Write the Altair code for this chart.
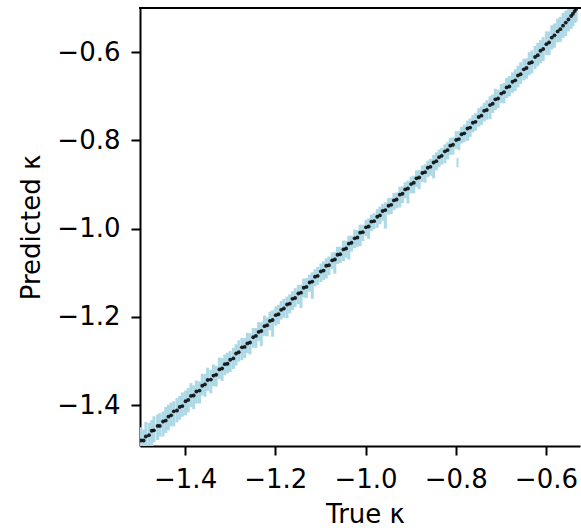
import altair as alt
import pandas as pd

true_k = [
    -1.498, -1.492, -1.487, -1.480, -1.474, -1.469, -1.461, -1.456, -1.449, -1.443,
    -1.437, -1.431, -1.425, -1.418, -1.412, -1.406, -1.399, -1.393, -1.387, -1.381,
    -1.375, -1.368, -1.362, -1.356, -1.350, -1.343, -1.337, -1.331, -1.324, -1.318,
    -1.312, -1.306, -1.300, -1.293, -1.287, -1.281, -1.274, -1.268, -1.262, -1.256,
    -1.249, -1.243, -1.237, -1.231, -1.224, -1.218, -1.212, -1.206, -1.199, -1.193,
    -1.187, -1.181, -1.174, -1.168, -1.162, -1.156, -1.149, -1.143, -1.137, -1.131,
    -1.124, -1.118, -1.112, -1.106, -1.099, -1.093, -1.087, -1.081, -1.074, -1.068,
    -1.062, -1.056, -1.049, -1.043, -1.037, -1.031, -1.024, -1.018, -1.012, -1.006,
    -0.999, -0.993, -0.987, -0.981, -0.974, -0.968, -0.962, -0.956, -0.949, -0.943,
    -0.937, -0.931, -0.924, -0.918, -0.912, -0.906, -0.899, -0.893, -0.887, -0.881,
    -0.874, -0.868, -0.862, -0.856, -0.849, -0.843, -0.837, -0.831, -0.824, -0.818,
    -0.812, -0.806, -0.799, -0.793, -0.787, -0.781, -0.774, -0.768, -0.762, -0.756,
    -0.749, -0.743, -0.737, -0.731, -0.724, -0.718, -0.712, -0.706, -0.699, -0.693,
    -0.687, -0.681, -0.674, -0.668, -0.662, -0.656, -0.649, -0.643, -0.637, -0.631,
    -0.624, -0.618, -0.612, -0.606, -0.599, -0.593, -0.587, -0.581, -0.574, -0.568,
    -0.562, -0.556, -0.550, -0.544, -0.540, -0.536, -0.533,
]

pred_k = [
    -1.480, -1.480, -1.471, -1.468, -1.458, -1.457, -1.447, -1.447, -1.437, -1.435,
    -1.426, -1.423, -1.414, -1.412, -1.404, -1.402, -1.391, -1.388, -1.379, -1.378,
    -1.369, -1.367, -1.356, -1.353, -1.343, -1.342, -1.333, -1.331, -1.319, -1.317,
    -1.307, -1.306, -1.297, -1.294, -1.283, -1.280, -1.269, -1.268, -1.260, -1.258,
    -1.246, -1.243, -1.234, -1.232, -1.221, -1.219, -1.209, -1.207, -1.196, -1.194,
    -1.184, -1.181, -1.172, -1.170, -1.159, -1.157, -1.147, -1.145, -1.134, -1.132,
    -1.122, -1.120, -1.109, -1.107, -1.097, -1.095, -1.084, -1.083, -1.072, -1.070,
    -1.059, -1.058, -1.047, -1.045, -1.034, -1.032, -1.022, -1.020, -1.009, -1.008,
    -0.997, -0.995, -0.984, -0.983, -0.973, -0.970, -0.960, -0.958, -0.948, -0.946,
    -0.936, -0.934, -0.923, -0.921, -0.911, -0.909, -0.899, -0.896, -0.886, -0.884,
    -0.874, -0.872, -0.862, -0.860, -0.850, -0.847, -0.838, -0.835, -0.825, -0.822,
    -0.812, -0.810, -0.799, -0.797, -0.786, -0.784, -0.773, -0.771, -0.760, -0.758,
    -0.747, -0.744, -0.733, -0.731, -0.720, -0.717, -0.707, -0.705, -0.694, -0.691,
    -0.680, -0.678, -0.667, -0.664, -0.653, -0.650, -0.639, -0.636, -0.625, -0.623,
    -0.611, -0.607, -0.597, -0.593, -0.582, -0.578, -0.567, -0.562, -0.553, -0.548,
    -0.540, -0.533, -0.526, -0.518, -0.513, -0.507, -0.502,
]

err_hi = [
    0.030, 0.025, 0.033, 0.028, 0.024, 0.032, 0.026, 0.029, 0.023, 0.031,
    0.027, 0.029, 0.023, 0.028, 0.025, 0.031, 0.024, 0.027, 0.029, 0.023,
    0.025, 0.021, 0.027, 0.024, 0.028, 0.022, 0.025, 0.020, 0.027, 0.024,
    0.022, 0.025, 0.020, 0.024, 0.021, 0.027, 0.022, 0.020, 0.024, 0.021,
    0.021, 0.018, 0.022, 0.020, 0.024, 0.018, 0.021, 0.022, 0.020, 0.021,
    0.020, 0.022, 0.018, 0.021, 0.017, 0.022, 0.020, 0.018, 0.021, 0.020,
    0.018, 0.021, 0.017, 0.020, 0.018, 0.021, 0.017, 0.020, 0.018, 0.017,
    0.018, 0.017, 0.020, 0.017, 0.018, 0.016, 0.020, 0.017, 0.018, 0.017,
    0.017, 0.018, 0.016, 0.018, 0.017, 0.020, 0.016, 0.018, 0.017, 0.016,
    0.017, 0.016, 0.018, 0.017, 0.016, 0.018, 0.017, 0.016, 0.018, 0.017,
    0.017, 0.018, 0.016, 0.018, 0.017, 0.020, 0.017, 0.018, 0.016, 0.018,
    0.018, 0.017, 0.020, 0.018, 0.017, 0.020, 0.018, 0.021, 0.017, 0.020,
    0.020, 0.021, 0.018, 0.022, 0.020, 0.021, 0.024, 0.020, 0.022, 0.021,
    0.022, 0.024, 0.021, 0.025, 0.022, 0.027, 0.024, 0.022, 0.025, 0.027,
    0.025, 0.028, 0.024, 0.027, 0.029, 0.025, 0.028, 0.027, 0.029, 0.028,
    0.029, 0.027, 0.031, 0.028, 0.029, 0.031, 0.028,
]

err_lo = [
    0.028, 0.035, 0.025, 0.031, 0.036, 0.027, 0.032, 0.024, 0.034, 0.028,
    0.031, 0.025, 0.034, 0.027, 0.029, 0.024, 0.032, 0.028, 0.025, 0.031,
    0.027, 0.029, 0.022, 0.028, 0.025, 0.031, 0.024, 0.027, 0.022, 0.028,
    0.025, 0.022, 0.028, 0.024, 0.027, 0.021, 0.029, 0.025, 0.022, 0.027,
    0.024, 0.027, 0.021, 0.034, 0.022, 0.025, 0.021, 0.038, 0.024, 0.022,
    0.022, 0.021, 0.031, 0.022, 0.025, 0.021, 0.024, 0.035, 0.022, 0.025,
    0.021, 0.039, 0.022, 0.020, 0.024, 0.021, 0.029, 0.022, 0.020, 0.032,
    0.021, 0.020, 0.027, 0.021, 0.036, 0.020, 0.022, 0.021, 0.031, 0.020,
    0.020, 0.028, 0.021, 0.018, 0.025, 0.020, 0.022, 0.042, 0.020, 0.021,
    0.022, 0.020, 0.029, 0.021, 0.020, 0.034, 0.021, 0.024, 0.020, 0.027,
    0.020, 0.024, 0.021, 0.020, 0.036, 0.021, 0.022, 0.020, 0.027, 0.021,
    0.021, 0.022, 0.020, 0.025, 0.021, 0.020, 0.028, 0.021, 0.022, 0.020,
    0.022, 0.021, 0.024, 0.022, 0.032, 0.021, 0.024, 0.022, 0.021, 0.025,
    0.024, 0.022, 0.025, 0.024, 0.027, 0.022, 0.025, 0.024, 0.027, 0.025,
    0.027, 0.025, 0.028, 0.027, 0.025, 0.029, 0.027, 0.028, 0.025, 0.029,
    0.028, 0.031, 0.027, 0.029, 0.028, 0.027, 0.029,
]

# isolated error bar below the band near True kappa = -0.8
stray_true = [-0.796]
stray_lo = [-0.861]
stray_hi = [-0.840]

x_ticks = [-1.4, -1.2, -1.0, -0.8, -0.6]
y_ticks = [-1.4, -1.2, -1.0, -0.8, -0.6]

df = pd.DataFrame({
    "true": true_k,
    "pred": pred_k,
    "lo": [p - e for p, e in zip(pred_k, err_lo)],
    "hi": [p + e for p, e in zip(pred_k, err_hi)],
})
stray = pd.DataFrame({"true": stray_true, "lo": stray_lo, "hi": stray_hi})

FONT = "DejaVu Sans"
xscale = alt.Scale(domain=[-1.5, -0.5244], nice=False, zero=False)
yscale = alt.Scale(domain=[-1.4925, -0.5], nice=False, zero=False)

xaxis = alt.Axis(
    values=x_ticks, format=".1f", title="True κ",
    titleX=225, titleY=76, titleAlign="center", titleBaseline="alphabetic",
    labelBaseline="alphabetic", labelPadding=32,
)
yaxis = alt.Axis(
    values=y_ticks, format=".1f", title="Predicted κ",
    titleX=-101, titleY=219, titleAngle=270, titleAlign="center",
    titleBaseline="alphabetic", labelPadding=11, labelBaseline="middle",
)

bars = alt.Chart(df).mark_rule(color="#add8e6", strokeWidth=3, clip=True).encode(
    x=alt.X("true:Q", scale=xscale, axis=xaxis),
    y=alt.Y("lo:Q", scale=yscale, axis=yaxis),
    y2="hi:Q",
)

stray_bars = alt.Chart(stray).mark_rule(color="#add8e6", strokeWidth=2, clip=True).encode(
    x=alt.X("true:Q", scale=xscale),
    y=alt.Y("lo:Q", scale=yscale),
    y2="hi:Q",
)

points = alt.Chart(df).mark_point(filled=True, color="black", size=15, opacity=0.85, clip=True).encode(
    x=alt.X("true:Q", scale=xscale),
    y=alt.Y("pred:Q", scale=yscale),
)

top_spine = alt.Chart(df).mark_rule(color="black", strokeWidth=2).encode(
    x=alt.value(-1), x2=alt.value(441), y=alt.value(0)
)

chart = alt.layer(bars, stray_bars, points, top_spine).properties(
    width=440, height=438,
    autosize=alt.AutoSizeParams(type="none"),
    padding={"left": 140, "top": 8, "right": 1, "bottom": 82},
).configure_view(stroke=None).configure_axis(
    grid=False,
    domainColor="black", domainWidth=2,
    tickColor="black", tickWidth=2, tickSize=9,
    labelFont=FONT, titleFont=FONT,
    labelFontSize=26, titleFontSize=26,
    labelColor="black", titleColor="black",
    titleFontWeight="normal",
)

chart.save("out.html", embed_options={"renderer": "svg", "actions": False})
